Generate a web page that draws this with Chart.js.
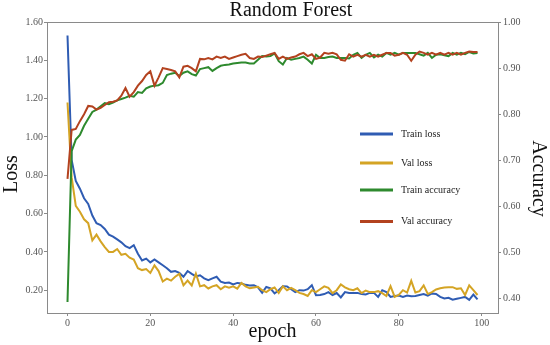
<!DOCTYPE html>
<html><head><meta charset="utf-8">
<script src="https://cdn.jsdelivr.net/npm/chart.js@4.4.1/dist/chart.umd.min.js"></script>
<style>html,body{margin:0;padding:0;background:#fff;} canvas{display:block;}</style>
</head><body>
<canvas id="c" width="550" height="345"></canvas>
<script>
// ---- data ----
const epochs = Array.from({length: 100}, (_, i) => i);
const trainLoss = [1.53,0.88,0.77,0.73,0.68,0.65,0.59,0.55,0.54,0.52,
  0.49,0.48,0.465,0.45,0.43,0.42,0.435,0.39,0.355,0.365,
  0.345,0.36,0.345,0.33,0.315,0.296,0.30,0.29,0.27,0.30,
  0.285,0.272,0.278,0.262,0.252,0.262,0.27,0.245,0.238,0.24,
  0.23,0.238,0.235,0.228,0.225,0.226,0.215,0.186,0.217,0.21,
  0.183,0.20,0.221,0.22,0.205,0.19,0.20,0.198,0.205,0.226,
  0.174,0.175,0.18,0.19,0.175,0.185,0.162,0.19,0.185,0.186,
  0.186,0.18,0.178,0.186,0.186,0.165,0.20,0.19,0.165,0.17,
  0.172,0.165,0.172,0.168,0.17,0.175,0.18,0.172,0.183,0.18,
  0.165,0.157,0.16,0.15,0.155,0.16,0.165,0.15,0.177,0.152];
const valLoss = [1.18,0.79,0.64,0.61,0.57,0.55,0.46,0.49,0.455,0.425,
  0.40,0.40,0.415,0.385,0.39,0.37,0.36,0.315,0.305,0.31,
  0.29,0.33,0.30,0.245,0.26,0.25,0.27,0.285,0.225,0.25,
  0.225,0.287,0.22,0.226,0.209,0.22,0.226,0.205,0.22,0.213,
  0.22,0.208,0.238,0.22,0.21,0.214,0.218,0.20,0.19,0.205,
  0.214,0.185,0.22,0.20,0.212,0.20,0.186,0.18,0.17,0.20,
  0.19,0.205,0.22,0.212,0.185,0.20,0.23,0.215,0.205,0.20,
  0.21,0.185,0.198,0.19,0.19,0.195,0.185,0.17,0.221,0.165,
  0.175,0.20,0.188,0.249,0.188,0.195,0.225,0.18,0.19,0.204,
  0.21,0.214,0.215,0.216,0.207,0.21,0.175,0.225,0.20,0.175];
const trainAcc = [0.393,0.72,0.745,0.755,0.775,0.79,0.805,0.81,0.817,0.824,
  0.822,0.825,0.83,0.833,0.836,0.84,0.838,0.848,0.846,0.856,
  0.86,0.862,0.863,0.868,0.885,0.888,0.89,0.883,0.89,0.893,
  0.887,0.884,0.898,0.90,0.902,0.894,0.90,0.905,0.907,0.908,
  0.91,0.911,0.912,0.912,0.91,0.91,0.918,0.926,0.925,0.926,
  0.932,0.915,0.908,0.922,0.918,0.92,0.922,0.925,0.918,0.91,
  0.929,0.922,0.922,0.924,0.925,0.922,0.922,0.922,0.921,0.929,
  0.933,0.922,0.929,0.933,0.923,0.929,0.925,0.933,0.929,0.933,
  0.929,0.933,0.933,0.933,0.933,0.93,0.927,0.933,0.922,0.929,
  0.93,0.928,0.926,0.933,0.929,0.933,0.93,0.935,0.932,0.933];
const valAcc = [0.66,0.766,0.768,0.785,0.80,0.818,0.817,0.81,0.814,0.82,
  0.826,0.827,0.83,0.84,0.857,0.838,0.848,0.862,0.872,0.885,
  0.893,0.862,0.88,0.90,0.898,0.896,0.893,0.88,0.903,0.905,
  0.90,0.893,0.92,0.919,0.922,0.919,0.925,0.922,0.925,0.92,
  0.923,0.926,0.929,0.931,0.922,0.92,0.925,0.924,0.927,0.93,
  0.933,0.92,0.925,0.92,0.923,0.925,0.93,0.933,0.926,0.93,
  0.92,0.923,0.933,0.931,0.933,0.93,0.918,0.916,0.93,0.925,
  0.929,0.925,0.929,0.925,0.929,0.925,0.929,0.933,0.933,0.927,
  0.929,0.933,0.929,0.916,0.929,0.936,0.933,0.929,0.933,0.929,
  0.933,0.929,0.933,0.929,0.933,0.929,0.933,0.936,0.935,0.935];
const xTicks = [0, 20, 40, 60, 80, 100];
const lossTicks = [0.20, 0.40, 0.60, 0.80, 1.00, 1.20, 1.40, 1.60];
const accTicks = [0.40, 0.50, 0.60, 0.70, 0.80, 0.90, 1.00];
const seriesNames = ['Train loss', 'Val loss', 'Train accuracy', 'Val accuracy'];
const chartTitle = 'Random Forest';
const xTitle = 'epoch', lossTitle = 'Loss', accTitle = 'Accuracy';

// ---- styles ----
const SERIF = "'Liberation Serif', 'Times New Roman', serif";
const colors = ['#2f5cb3', '#d4a424', '#2e8a2e', '#b3421f'];
const axisColor = '#8a8a8a';
const tickColor = '#555';

const pts = arr => arr.map((v, i) => ({x: epochs[i], y: v}));
const mk = (i, arr, axis, order) => ({
  label: seriesNames[i], data: pts(arr), yAxisID: axis,
  borderColor: colors[i], backgroundColor: colors[i],
  borderWidth: 2, pointRadius: 0, tension: 0, fill: false, order: order
});

// shift a vertical scale's title down by dy pixels
function shiftTitle(scale, dy) {
  if (!scale || scale._titleShifted) return;
  const orig = scale.drawTitle.bind(scale);
  scale.drawTitle = function () {
    const t = this.top, b = this.bottom;
    this.top = t + dy; this.bottom = b + dy;
    orig();
    this.top = t; this.bottom = b;
  };
  scale._titleShifted = true;
}

const framePlugin = {
  id: 'frame',
  afterLayout(chart) {
    const t = chart.titleBlock;
    if (t) { t.left += 32; }
    shiftTitle(chart.scales.y, 6.5);
    shiftTitle(chart.scales.y2, 11);
  },
  afterDatasetsDraw(chart) {
    const {ctx, chartArea: a} = chart;
    ctx.save();
    ctx.strokeStyle = axisColor; ctx.lineWidth = 1;
    ctx.beginPath(); ctx.moveTo(a.left, a.top + 0.5); ctx.lineTo(a.right, a.top + 0.5); ctx.stroke();
    // legend
    const ys = [134, 163, 190, 221.5];
    chart.data.datasets.forEach((ds, i) => {
      ctx.strokeStyle = ds.borderColor; ctx.lineWidth = 3;
      ctx.beginPath(); ctx.moveTo(360, ys[i]); ctx.lineTo(393, ys[i]); ctx.stroke();
      ctx.fillStyle = '#222'; ctx.font = '10px ' + SERIF;
      ctx.textBaseline = 'middle'; ctx.textAlign = 'left';
      ctx.fillText(ds.label, 401, ys[i]);
    });
    ctx.restore();
  }
};

new Chart(document.getElementById('c'), {
  type: 'line',
  data: { datasets: [
    mk(0, trainLoss, 'y', 4), mk(1, valLoss, 'y', 3),
    mk(2, trainAcc, 'y2', 2), mk(3, valAcc, 'y2', 1)
  ]},
  options: {
    responsive: false, animation: false, devicePixelRatio: 1,
    layout: { padding: 0 },
    plugins: {
      legend: { display: false }, tooltip: { enabled: false },
      title: { display: true, text: chartTitle, color: '#111',
        font: { family: SERIF, size: 20, weight: 'normal', lineHeight: 1.0 },
        padding: { top: 1, bottom: 1 } }
    },
    scales: {
      x: { type: 'linear', position: 'bottom', min: -4.95, max: 103.95,
        afterBuildTicks: s => { s.ticks = xTicks.map(v => ({value: v})); },
        afterFit: s => { s.height = 32; },
        ticks: { font: { family: SERIF, size: 10 }, color: tickColor, padding: 1, maxRotation: 0,
          callback: v => String(v) },
        grid: { drawOnChartArea: false, drawTicks: true, tickLength: 3, color: axisColor },
        border: { display: true, color: axisColor, width: 1 },
        title: { display: true, text: xTitle, color: '#111',
          font: { family: SERIF, size: 20, lineHeight: 1.2 }, padding: { top: 0, bottom: 1 } } },
      y: { type: 'linear', position: 'left', min: 0.081, max: 1.60,
        afterBuildTicks: s => { s.ticks = lossTicks.map(v => ({value: v})); },
        afterFit: s => { s.width = 47; },
        ticks: { font: { family: SERIF, size: 10 }, color: tickColor, padding: 1,
          callback: v => Number(v).toFixed(2) },
        grid: { drawOnChartArea: false, drawTicks: true, tickLength: 3, color: axisColor },
        border: { display: true, color: axisColor, width: 1 },
        title: { display: true, text: lossTitle, color: '#111',
          font: { family: SERIF, size: 20, lineHeight: 1.2 }, padding: { top: 0, bottom: 0 } } },
      y2: { type: 'linear', position: 'right', min: 0.369, max: 1.0,
        afterBuildTicks: s => { s.ticks = accTicks.map(v => ({value: v})); },
        afterFit: s => { s.width = 52; },
        ticks: { font: { family: SERIF, size: 10 }, color: tickColor, padding: 2,
          callback: v => Number(v).toFixed(2) },
        grid: { drawOnChartArea: false, drawTicks: true, tickLength: 3, color: axisColor },
        border: { display: true, color: axisColor, width: 1 },
        title: { display: true, text: accTitle, color: '#111',
          font: { family: SERIF, size: 20, lineHeight: 1.2 }, padding: { top: 0, bottom: 0 } } }
    }
  },
  plugins: [framePlugin]
});
</script>
</body></html>
